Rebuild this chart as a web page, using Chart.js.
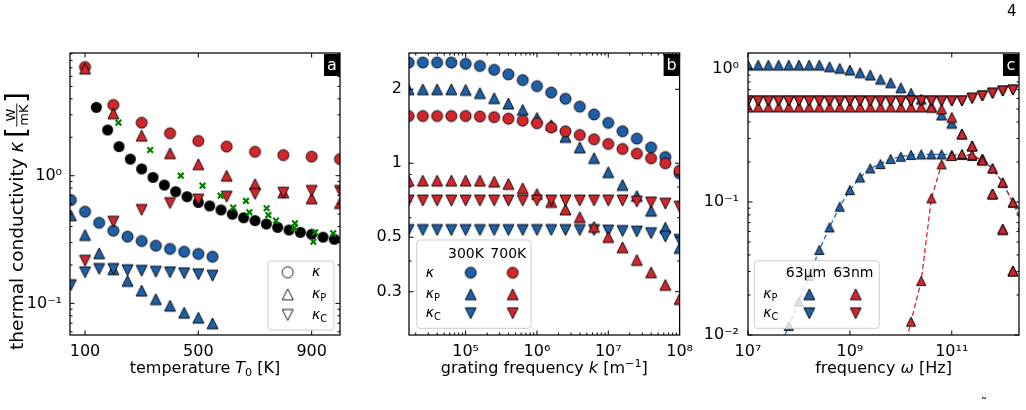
<!DOCTYPE html>
<html>
<head>
<meta charset="utf-8">
<title>thermal conductivity</title>
<script src="https://cdn.jsdelivr.net/npm/chart.js@4.4.1/dist/chart.umd.min.js"></script>
<style>
  html, body { margin: 0; padding: 0; background: #fff; }
  body { position: relative; width: 1026px; height: 410px; overflow: hidden; font-family: "DejaVu Sans", sans-serif; }
  canvas { position: absolute; top: 0; }
  .note { position: absolute; color: #000; font-family: "DejaVu Sans", sans-serif; }
</style>
</head>
<body>
<canvas id="panelA" width="350" height="410" style="left:0px"></canvas>
<canvas id="panelB" width="360" height="410" style="left:340px"></canvas>
<canvas id="panelC" width="336" height="410" style="left:690px"></canvas>
<div class="note" style="left:1007px;top:2px;font-size:15px">4</div>
<div class="note" style="left:981px;top:396px;font-size:12px">˜</div>
<script>
/* ── (a) temperature sweep ─────────────────────── */
const tempHigh   = [100, 200, 300, 400, 500, 600, 700, 800, 900, 1000];
const kappaHot   = [7.1, 3.58, 2.60, 2.15, 1.87, 1.69, 1.54, 1.45, 1.41, 1.35];
const kappaPHot  = [6.9, 3.08, 2.06, 1.50, 1.23, 1.00, 0.86, 0.74, 0.665, 0.61];
const kappaCHot  = [0.216, 0.436, 0.54, 0.61, 0.65, 0.685, 0.72, 0.736, 0.76, 0.76];

const tempLow    = [50, 100, 150, 200, 250, 300, 350, 400, 450, 500, 550];
const kappaCold  = [0.645, 0.523, 0.428, 0.371, 0.333, 0.308, 0.283, 0.267, 0.254, 0.244, 0.232];
const kappaPCold = [0.49, 0.343, 0.247, 0.185, 0.15, 0.126, 0.108, 0.096, 0.0846, 0.0773, 0.0698];
const kappaCCold = [0.139, 0.175, 0.186, 0.186, 0.182, 0.18, 0.177, 0.175, 0.172, 0.169, 0.165];

const tempRef    = [140, 180, 220, 260, 300, 340, 380, 420, 460, 500, 540, 580, 620, 660, 700, 740, 780, 820, 860, 900, 940, 980];
const kappaRef   = [3.43, 2.28, 1.69, 1.35, 1.13, 0.97, 0.845, 0.75, 0.685, 0.618, 0.58, 0.54, 0.50, 0.469, 0.445, 0.419, 0.394, 0.376, 0.36, 0.348, 0.33, 0.318];

const tempMeas   = [218, 330, 438, 515, 579, 623, 668, 680, 741, 747, 774, 841, 838, 912, 906, 976];
const kappaMeas  = [2.6, 1.59, 1.0, 0.835, 0.697, 0.562, 0.634, 0.517, 0.556, 0.492, 0.445, 0.424, 0.388, 0.36, 0.304, 0.354];

const ticksTemp   = [100, 500, 900];
const ticksKappaA = [0.1, 1];

/* ── (b) grating frequency sweep ───────────────── */
const gratingExp = [4.2, 4.4, 4.6, 4.8, 5.0, 5.2, 5.4, 5.6, 5.8, 6.0, 6.2, 6.4, 6.6, 6.8, 7.0, 7.2, 7.4, 7.6, 7.8, 8.0];
const kappa300   = [2.57, 2.57, 2.57, 2.57, 2.54, 2.49, 2.40, 2.30, 2.18, 2.06, 1.94, 1.83, 1.70, 1.58, 1.46, 1.35, 1.26, 1.16, 1.06, 0.91];
const kappaP300  = [2.0, 2.0, 2.0, 2.0, 1.99, 1.93, 1.84, 1.75, 1.65, 1.53, 1.43, 1.28, 1.16, 1.05, 0.92, 0.816, 0.736, 0.641, 0.547, 0.452];
const kappaC300  = [0.535, 0.535, 0.535, 0.535, 0.535, 0.535, 0.535, 0.535, 0.535, 0.535, 0.535, 0.535, 0.535, 0.535, 0.532, 0.53, 0.527, 0.519, 0.503, 0.488];
const kappa700   = [1.557, 1.557, 1.557, 1.557, 1.557, 1.55, 1.54, 1.519, 1.49, 1.455, 1.398, 1.349, 1.303, 1.252, 1.198, 1.143, 1.094, 1.048, 1.0, 0.933];
const kappaP700  = [0.85, 0.85, 0.85, 0.85, 0.85, 0.85, 0.842, 0.824, 0.791, 0.75, 0.696, 0.649, 0.603, 0.551, 0.501, 0.455, 0.404, 0.36, 0.32, 0.28];
const kappaC700  = [0.705, 0.705, 0.705, 0.705, 0.705, 0.705, 0.705, 0.705, 0.705, 0.705, 0.705, 0.705, 0.705, 0.705, 0.705, 0.705, 0.698, 0.692, 0.685, 0.665];

const ticksGrating = [1e5, 1e6, 1e7, 1e8];
const ticksKappaB  = [0.3, 0.5, 1, 2];

/* ── (c) frequency response ────────────────────── */
const freqExp   = [7.0, 7.2, 7.4, 7.6, 7.8, 8.0, 8.2, 8.4, 8.6, 8.8, 9.0, 9.2, 9.4, 9.6, 9.8, 10.0, 10.2, 10.4, 10.6, 10.8, 11.0, 11.2, 11.4, 11.6, 11.8, 12.0, 12.2];
const kappaPum  = [1.07, 1.07, 1.07, 1.07, 1.07, 1.07, 1.07, 1.07, 1.04, 1.012, 0.983, 0.938, 0.901, 0.837, 0.789, 0.723, 0.657, 0.592, 0.521, 0.451, 0.391, 0.325, 0.264, 0.2095, 0.115, 0.0623, 0.0303];
const kappaCum  = [0.575, 0.575, 0.575, 0.575, 0.575, 0.575, 0.575, 0.575, 0.575, 0.575, 0.575, 0.575, 0.575, 0.575, 0.575, 0.575, 0.575, 0.575, 0.575, 0.575, 0.575, 0.575, 0.602, 0.627, 0.657, 0.683, 0.695];
const kappaPnm  = [0.518, 0.518, 0.518, 0.518, 0.518, 0.518, 0.518, 0.518, 0.518, 0.518, 0.518, 0.518, 0.518, 0.518, 0.518, 0.518, 0.518, 0.518, 0.515, 0.50, 0.433, 0.325, 0.264, 0.2095, 0.115, 0.0623, 0.0303];
const kappaCnm  = [0.575, 0.575, 0.575, 0.575, 0.575, 0.575, 0.575, 0.575, 0.575, 0.575, 0.575, 0.575, 0.575, 0.575, 0.575, 0.575, 0.575, 0.575, 0.575, 0.575, 0.575, 0.575, 0.602, 0.627, 0.657, 0.683, 0.695];

const imagExpUm   = [7.6, 7.8, 8.0, 8.2, 8.4, 8.6, 8.8, 9.0, 9.2, 9.4, 9.6, 9.8, 10.0, 10.2, 10.4, 10.6, 10.8, 11.0, 11.2, 11.4, 11.6, 11.8, 12.0, 12.2, 12.4];
const imagKappaUm = [0.00767, 0.0117, 0.0178, 0.0278, 0.0436, 0.0645, 0.0922, 0.123, 0.153, 0.179, 0.193, 0.211, 0.219, 0.226, 0.228, 0.228, 0.228, 0.226, 0.226, 0.222, 0.207, 0.179, 0.14, 0.0988, 0.0672];
const imagExpNm   = [10.0, 10.2, 10.4, 10.6, 10.8, 11.0, 11.2, 11.4, 11.6, 11.8, 12.0, 12.2, 12.4];
const imagKappaNm = [0.00623, 0.0126, 0.0255, 0.1066, 0.192, 0.222, 0.23, 0.226, 0.205, 0.179, 0.14, 0.0995, 0.0672];

const ticksFreq   = [1e7, 1e9, 1e11];
const ticksKappaC = [0.01, 0.1, 1];

/* ── helpers ───────────────────────────────────── */
const FAM   = '"DejaVu Sans"';
const BLUE  = '#1f5fa6';
const RED   = '#d1262b';
const GREEN = '#008000';

Chart.defaults.font.family = FAM;
Chart.defaults.color = '#000';

const pts = (xs, ys) => xs.map((x, i) => ({ x, y: ys[i] }));
const pow10 = es => es.map(e => 10 ** e);

const SUP = { '-': '⁻', '0': '⁰', '1': '¹', '2': '²', '3': '³', '4': '⁴', '5': '⁵', '6': '⁶', '7': '⁷', '8': '⁸', '9': '⁹' };
const expLabel = v => '10' + String(Math.round(Math.log10(v))).split('').map(c => SUP[c]).join('');

// matplotlib-like markers (black edged) as small canvases
function mk(shape, fill, size, edge = '#000') {
  const c = document.createElement('canvas');
  c.width = c.height = Math.ceil(size) + 4;
  const g = c.getContext('2d'), m = c.width / 2, h = size / 2;
  g.beginPath();
  if (shape === 'o') g.arc(m, m, h, 0, Math.PI * 2);
  else if (shape === '^') { g.moveTo(m, m - h); g.lineTo(m + h, m + h); g.lineTo(m - h, m + h); g.closePath(); }
  else { g.moveTo(m, m + h); g.lineTo(m + h, m - h); g.lineTo(m - h, m - h); g.closePath(); }
  g.fillStyle = fill;
  g.fill();
  if (edge) { g.lineWidth = 0.9; g.strokeStyle = edge; g.stroke(); }
  return c;
}

const logMinors = (lo, hi) => {
  const out = [];
  for (let e = lo; e <= hi; e++) for (let m = 2; m <= 9; m++) out.push(m * 10 ** e);
  return out;
};

const seg = (t, size, it = false, dy = 0) => ({ t, size, it, dy });

function measureRich(ctx, segs) {
  let w = 0;
  segs.forEach(s => { ctx.font = (s.it ? 'italic ' : '') + s.size + 'px ' + FAM; s.w = ctx.measureText(s.t).width; w += s.w; });
  return w;
}

function drawRich(ctx, segs, x, y, align) {
  const w = measureRich(ctx, segs);
  let cx = align === 'center' ? x - w / 2 : x;
  ctx.textAlign = 'left';
  ctx.textBaseline = 'alphabetic';
  segs.forEach(s => {
    ctx.font = (s.it ? 'italic ' : '') + s.size + 'px ' + FAM;
    ctx.fillText(s.t, cx, y + s.dy);
    cx += s.w;
  });
}

function drawKappaTitle(ctx, cx, cy) {
  ctx.save();
  ctx.translate(cx, cy);
  ctx.rotate(-Math.PI / 2);
  ctx.fillStyle = '#000';
  const fs = 18.5;
  const main = [seg('thermal conductivity ', fs), seg('κ', fs, true), seg(' ', fs * 0.6)];
  const wMain = measureRich(ctx, main);
  ctx.font = '13px ' + FAM;
  const wFrac = Math.max(ctx.measureText('W').width, ctx.measureText('mK').width) + 3;
  ctx.font = '28px ' + FAM;
  const wBr = ctx.measureText('[').width;
  let x0 = -(wMain + 2 * wBr + wFrac) / 2;
  const base = 5.5, axisY = -0.2;
  drawRich(ctx, main, x0, base, 'left');
  x0 += wMain;
  ctx.font = '28px ' + FAM;
  ctx.fillText('[', x0, axisY + 8.7);
  x0 += wBr;
  ctx.font = '13px ' + FAM;
  ctx.textAlign = 'center';
  ctx.fillText('W', x0 + wFrac / 2, axisY - 2.2);
  ctx.fillText('mK', x0 + wFrac / 2, axisY + 11.5);
  ctx.fillRect(x0 + 0.5, axisY - 0.45, wFrac - 1, 0.9);
  x0 += wFrac;
  ctx.textAlign = 'left';
  ctx.font = '28px ' + FAM;
  ctx.fillText(']', x0, axisY + 8.7);
  ctx.restore();
}

// inward ticks on all four sides, frame, legend box, panel letter, axis titles
const mplFrame = {
  id: 'mplFrame',
  afterDatasetsDraw(chart, args, o) {
    const { ctx, chartArea: a, scales: { x, y } } = chart;
    const inX = v => v >= x.min && v <= x.max;
    const inY = v => v >= y.min && v <= y.max;
    ctx.save();
    ctx.strokeStyle = '#000';
    ctx.lineWidth = 1;
    ctx.beginPath();
    const xt = (v, len) => {
      const p = x.getPixelForValue(v);
      ctx.moveTo(p, a.bottom); ctx.lineTo(p, a.bottom - len);
      ctx.moveTo(p, a.top); ctx.lineTo(p, a.top + len);
    };
    const yt = (v, len) => {
      const p = y.getPixelForValue(v);
      ctx.moveTo(a.left, p); ctx.lineTo(a.left + len, p);
      ctx.moveTo(a.right, p); ctx.lineTo(a.right - len, p);
    };
    o.xMajor.filter(inX).forEach(v => xt(v, 4.5));
    (o.xMinor || []).filter(inX).forEach(v => xt(v, 2.5));
    o.yMajor.filter(inY).forEach(v => yt(v, 4.5));
    (o.yMinor || []).filter(inY).forEach(v => yt(v, 2.5));
    ctx.stroke();
    ctx.lineWidth = 1.25;
    ctx.strokeRect(a.left, a.top, a.right - a.left, a.bottom - a.top);
    ctx.restore();
  },
  afterDraw(chart, args, o) {
    const { ctx, chartArea: a } = chart;
    ctx.save();
    // legend
    if (o.legend) {
      const [x0, y0, x1, y1] = o.legend.box;
      ctx.beginPath();
      ctx.roundRect(x0, y0, x1 - x0, y1 - y0, 3);
      ctx.fillStyle = 'rgba(255,255,255,0.8)';
      ctx.fill();
      ctx.strokeStyle = '#cccccc';
      ctx.lineWidth = 1;
      ctx.stroke();
      ctx.fillStyle = '#000';
      o.legend.items.forEach(it => {
        if (it.mark) ctx.drawImage(it.mark, it.x - it.mark.width / 2, it.y - it.mark.height / 2);
        else drawRich(ctx, it.text, it.x, it.y, it.align || 'left');
      });
    }
    // panel letter
    const lx = a.right - 16, ly = a.top + 1;
    ctx.fillStyle = '#000';
    ctx.fillRect(lx, ly, 16, 22);
    ctx.fillStyle = '#fff';
    ctx.font = '16px ' + FAM;
    ctx.textAlign = 'center';
    ctx.textBaseline = 'alphabetic';
    ctx.fillText(o.letter, lx + 8, ly + 16);
    // axis titles
    ctx.fillStyle = '#000';
    drawRich(ctx, o.xTitle, (a.left + a.right) / 2, 373, 'center');
    if (o.kappaTitle) drawKappaTitle(ctx, 17, 221);
    ctx.restore();
  }
};

function axis(c, dir) {
  return {
    type: c.type, min: c.min, max: c.max, bounds: 'data',
    position: dir === 'x' ? 'bottom' : 'left',
    grid: { display: false, drawTicks: false },
    border: { display: false },
    ticks: { autoSkip: false, maxRotation: 0, minRotation: 0, padding: c.pad, color: '#000', font: { family: FAM, size: 16 }, callback: c.label },
    afterBuildTicks: s => { s.ticks = c.major.map(v => ({ value: v })); },
    afterFit: s => { if (dir === 'x') s.height = c.size; else s.width = c.size; }
  };
}

function makeChart(id, cfg) {
  return new Chart(document.getElementById(id), {
    type: 'scatter',
    // first dataset is drawn on top in Chart.js, so list bottom→top and reverse
    data: { datasets: cfg.datasets.slice().reverse() },
    options: {
      responsive: false, animation: false, events: [],
      layout: { padding: cfg.padding },
      plugins: { legend: { display: false }, tooltip: { enabled: false }, mplFrame: cfg.frame },
      scales: { x: axis(cfg.x, 'x'), y: axis(cfg.y, 'y') }
    },
    plugins: [mplFrame]
  });
}

const dot = (data, mark, r) => ({ data, pointStyle: mark, pointRadius: r, showLine: false, clip: 0 });

/* ── panel a ── */
const MS = 11;
const openO = mk('o', '#fff', MS), openUp = mk('^', '#fff', MS), openDn = mk('v', '#fff', MS);
const kapSub = (s) => [seg('κ', 14, true), seg(s, 9.8, false, 3)];

makeChart('panelA', {
  padding: { left: 0, right: 10, top: 53, bottom: 0 },
  x: { type: 'linear', min: 47, max: 1000, major: ticksTemp, pad: 7, size: 75, label: v => String(v) },
  y: { type: 'logarithmic', min: 0.05656, max: 9.14, major: ticksKappaA, pad: 8, size: 70, label: expLabel },
  datasets: [
    dot(pts(tempRef, kappaRef), mk('o', '#000', MS, null), 5.5),
    dot(pts(tempLow, kappaCold), mk('o', BLUE, MS), 5.5),
    dot(pts(tempLow, kappaPCold), mk('^', BLUE, MS), 5.5),
    dot(pts(tempLow, kappaCCold), mk('v', BLUE, MS), 5.5),
    dot(pts(tempHigh, kappaHot), mk('o', RED, MS), 5.5),
    dot(pts(tempHigh, kappaPHot), mk('^', RED, MS), 5.5),
    dot(pts(tempHigh, kappaCHot), mk('v', RED, MS), 5.5),
    { data: pts(tempMeas, kappaMeas), pointStyle: 'crossRot', pointRadius: 4, borderColor: GREEN, pointBorderWidth: 2.2, borderWidth: 2.2, showLine: false, clip: 0 }
  ],
  frame: {
    letter: 'a', kappaTitle: true,
    xTitle: [seg('temperature ', 16), seg('T', 16, true), seg('0', 11.2, false, 3.2), seg(' [K]', 16)],
    xMajor: ticksTemp, yMajor: ticksKappaA, yMinor: logMinors(-2, 0),
    legend: {
      box: [268, 261, 334, 330],
      items: [
        { mark: openO, x: 287.7, y: 272.3 }, { text: [seg('κ', 14, true)], x: 312, y: 276.1 },
        { mark: openUp, x: 287.7, y: 294.3 }, { text: kapSub('P'), x: 312, y: 298.1 },
        { mark: openDn, x: 287.7, y: 315 }, { text: kapSub('C'), x: 312, y: 318.8 }
      ]
    }
  }
});

/* ── panel b ── */
const gratingK = pow10(gratingExp);
makeChart('panelB', {
  padding: { left: 0, right: 20, top: 53, bottom: 0 },
  x: { type: 'logarithmic', min: 10 ** 4.206, max: 1e8, major: ticksGrating, pad: 7, size: 75, label: expLabel },
  y: { type: 'logarithmic', min: 0.2, max: 2.81, major: ticksKappaB, pad: 7, size: 69, label: v => String(v) },
  datasets: [
    dot(pts(gratingK, kappa300), mk('o', BLUE, MS), 5.5),
    dot(pts(gratingK, kappaP300), mk('^', BLUE, MS), 5.5),
    dot(pts(gratingK, kappaC300), mk('v', BLUE, MS), 5.5),
    dot(pts(gratingK, kappa700), mk('o', RED, MS), 5.5),
    dot(pts(gratingK, kappaP700), mk('^', RED, MS), 5.5),
    dot(pts(gratingK, kappaC700), mk('v', RED, MS), 5.5)
  ],
  frame: {
    letter: 'b',
    xTitle: [seg('grating frequency ', 16), seg('k', 16, true), seg(' [m', 16), seg('−1', 11.2, false, -6.5), seg(']', 16)],
    xMajor: ticksGrating, xMinor: logMinors(4, 7), yMajor: ticksKappaB, yMinor: [0.4, 0.6, 0.7, 0.8, 0.9],
    legend: {
      box: [76.7, 240, 191, 328.3],
      items: [
        { text: [seg('300K', 14)], x: 126, y: 257.8, align: 'center' },
        { text: [seg('700K', 14)], x: 168.3, y: 257.8, align: 'center' },
        { text: [seg('κ', 14, true)], x: 85.7, y: 276.5 },
        { mark: mk('o', BLUE, MS), x: 130.7, y: 272.7 }, { mark: mk('o', RED, MS), x: 172.7, y: 272.7 },
        { text: kapSub('P'), x: 85.7, y: 298.1 },
        { mark: mk('^', BLUE, MS), x: 130.7, y: 294.3 }, { mark: mk('^', RED, MS), x: 172.7, y: 294.3 },
        { text: kapSub('C'), x: 85.7, y: 317.1 },
        { mark: mk('v', BLUE, MS), x: 130.7, y: 313.3 }, { mark: mk('v', RED, MS), x: 172.7, y: 313.3 }
      ]
    }
  }
});

/* ── panel c ── */
const freq = pow10(freqExp);
const dashed = (data, color, mark) => ({ data, pointStyle: mark, pointRadius: 4.6, showLine: true, borderColor: color, borderWidth: 1.3, borderDash: [5, 3], clip: 0 });
makeChart('panelC', {
  padding: { left: 0, right: 7, top: 53, bottom: 0 },
  x: { type: 'logarithmic', min: 1e7, max: 10 ** 12.32, major: ticksFreq, pad: 7, size: 75, label: expLabel },
  y: { type: 'logarithmic', min: 0.01, max: 1.32, major: ticksKappaC, pad: 9, size: 58, label: expLabel },
  datasets: [
    dot(pts(freq, kappaPum), mk('^', BLUE, 10), 5),
    dot(pts(freq, kappaCum), mk('v', BLUE, 10), 5),
    dashed(pts(pow10(imagExpUm), imagKappaUm), '#2a70b8', mk('^', BLUE, 9.2)),
    dot(pts(freq, kappaPnm), mk('^', RED, 10), 5),
    dot(pts(freq, kappaCnm), mk('v', RED, 10), 5),
    dashed(pts(pow10(imagExpNm), imagKappaNm), '#d62728', mk('^', RED, 9.2))
  ],
  frame: {
    letter: 'c',
    xTitle: [seg('frequency ', 16), seg('ω', 16, true), seg(' [Hz]', 16)],
    xMajor: ticksFreq, yMajor: ticksKappaC, yMinor: logMinors(-2, -1),
    legend: {
      box: [64.3, 260.7, 189.3, 328.3],
      items: [
        { text: [seg('63μm', 14)], x: 116, y: 277.4, align: 'center' },
        { text: [seg('63nm', 14)], x: 163.3, y: 277.4, align: 'center' },
        { text: kapSub('P'), x: 73.3, y: 298.1 },
        { mark: mk('^', BLUE, MS), x: 119.3, y: 294.3 }, { mark: mk('^', RED, MS), x: 165.7, y: 294.3 },
        { text: kapSub('C'), x: 73.3, y: 317.1 },
        { mark: mk('v', BLUE, MS), x: 119.3, y: 313.3 }, { mark: mk('v', RED, MS), x: 165.7, y: 313.3 }
      ]
    }
  }
});
</script>
</body>
</html>
